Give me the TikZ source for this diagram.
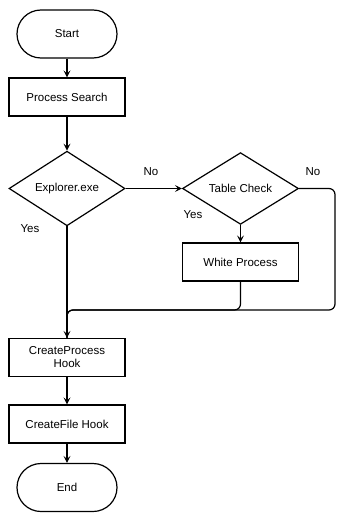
\documentclass[tikz,border=0pt]{standalone}
\usepackage{fontspec}
\setmainfont{Liberation Sans}
\usetikzlibrary{shapes.geometric,arrows.meta}
\begin{document}
\begin{tikzpicture}[x=1pt,y=1pt,line width=1.2pt,
    every node/.style={font=\fontsize{11.5}{13}\selectfont},
    term/.style={draw, rounded corners=24pt, minimum width=100pt, minimum height=48pt},
    proc/.style={draw, minimum width=116pt, minimum height=38pt, align=center},
    check/.style={draw, diamond, minimum width=116pt, minimum height=66pt, inner sep=0pt},
    arr/.style={-{Stealth[length=7pt,width=7pt,inset=3pt]}}]
    \useasboundingbox (0,0) rectangle (337,-513);
    % main column
    \node [term] (start) at (67,-34) {Start};
    \node [proc] (search) at (67,-97) {Process Search};
    \node [check] (explorer) at (67,-188.5) {Explorer.exe};
    \node [proc] (cphook) at (67,-357.5) {CreateProcess\\Hook};
    \node [proc] (cfhook) at (67,-424) {CreateFile Hook};
    \node [term] (end) at (67,-487.5) {End};
    % right branch
    \node [check] (table) at (240.5,-188.5) {Table Check};
    \node [proc] (white) at (240.5,-262) {White Process};
    \coordinate (merge) at (67,-310);
    \coordinate (rturn) at (335,-310);
    % labels
    \node (no1) at (151,-172) {No};
    \node (no2) at (313,-172) {No};
    \node (yes1) at (30,-229) {Yes};
    \node (yes2) at (193,-215) {Yes};
    % connectors
    \draw [arr] (start) -- (search);
    \draw [arr] (search) -- (explorer);
    \draw [arr] (explorer) -- (table);
    \draw [arr] (table) -- (white);
    \draw [arr] (explorer.south) -- (cphook.north);
    \draw [rounded corners=6pt] (white.south) |- (merge) -- (cphook.north);
    \draw [rounded corners=6pt] (table.east) -| (rturn) -- (merge) -- (cphook.north);
    \draw [arr] (cphook) -- (cfhook);
    \draw [arr] (cfhook) -- (end);
\end{tikzpicture}
\end{document}
